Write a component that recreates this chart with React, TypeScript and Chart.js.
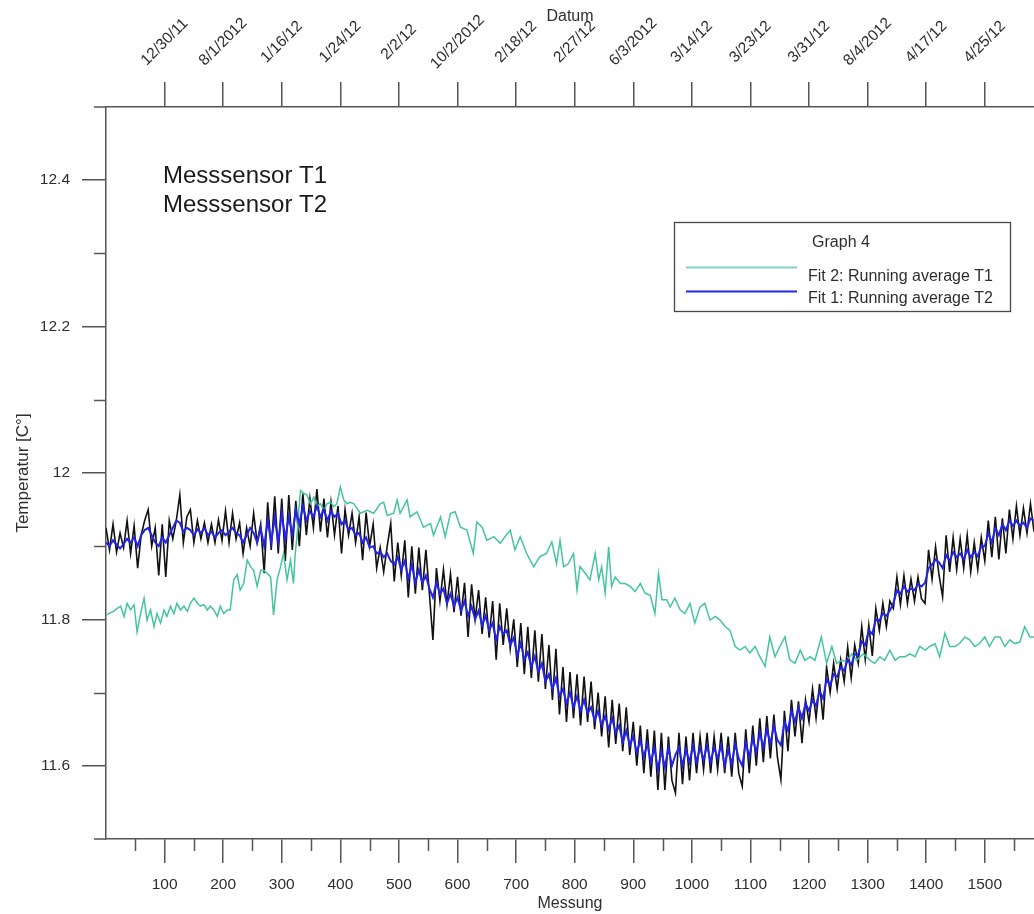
import React, { useEffect, useRef } from 'react';
import { Chart, registerables } from 'chart.js';

Chart.register(...registerables);

// ---------- data ----------
const STEP = 6; // measurement spacing of the sampled T2 series

// Messsensor T2, raw (black)
const T2_RAW: number[] = [
  11.925, 11.895, 11.930, 11.892, 11.918, 11.898, 11.935, 11.890, 11.928, 11.870,
  11.915, 11.935, 11.950, 11.900, 11.925, 11.860, 11.930, 11.858, 11.935, 11.910,
  11.935, 11.970, 11.905, 11.940, 11.950, 11.905, 11.935, 11.910, 11.932, 11.905,
  11.930, 11.905, 11.936, 11.908, 11.948, 11.905, 11.945, 11.910, 11.932, 11.890,
  11.925, 11.900, 11.945, 11.905, 11.930, 11.863, 11.960, 11.895, 11.968, 11.890,
  11.965, 11.880, 11.970, 11.895, 11.962, 11.900, 11.972, 11.915, 11.965, 11.925,
  11.978, 11.920, 11.965, 11.912, 11.960, 11.915, 11.955, 11.890, 11.950, 11.915,
  11.945, 11.905, 11.940, 11.881, 11.946, 11.900, 11.930, 11.870, 11.898, 11.865,
  11.900, 11.931, 11.852, 11.905, 11.860, 11.908, 11.830, 11.900, 11.835, 11.898,
  11.840, 11.895, 11.835, 11.772, 11.870, 11.825, 11.868, 11.820, 11.862, 11.810,
  11.858, 11.805, 11.850, 11.776, 11.848, 11.800, 11.840, 11.780, 11.830, 11.775,
  11.825, 11.745, 11.822, 11.765, 11.815, 11.760, 11.800, 11.735, 11.795, 11.725,
  11.790, 11.720, 11.785, 11.715, 11.780, 11.705, 11.765, 11.690, 11.760, 11.670,
  11.735, 11.660, 11.728, 11.665, 11.725, 11.655, 11.722, 11.660, 11.715, 11.650,
  11.700, 11.640, 11.695, 11.625, 11.690, 11.630, 11.685, 11.620, 11.680, 11.615,
  11.660, 11.600, 11.655, 11.590, 11.650, 11.585, 11.648, 11.567, 11.645, 11.567,
  11.640, 11.580, 11.563, 11.645, 11.575, 11.640, 11.580, 11.645, 11.590, 11.640,
  11.595, 11.645, 11.590, 11.640, 11.595, 11.645, 11.590, 11.640, 11.585, 11.645,
  11.590, 11.572, 11.650, 11.590, 11.655, 11.600, 11.665, 11.605, 11.668, 11.610,
  11.670, 11.612, 11.581, 11.675, 11.620, 11.690, 11.640, 11.688, 11.631, 11.690,
  11.660, 11.705, 11.665, 11.712, 11.663, 11.735, 11.700, 11.740, 11.705, 11.745,
  11.715, 11.762, 11.720, 11.765, 11.740, 11.790, 11.745, 11.792, 11.750, 11.815,
  11.785, 11.822, 11.790, 11.825, 11.815, 11.858, 11.820, 11.860, 11.822, 11.855,
  11.825, 11.858, 11.828, 11.822, 11.895, 11.855, 11.899, 11.860, 11.831, 11.915,
  11.865, 11.912, 11.868, 11.910, 11.870, 11.915, 11.865, 11.905, 11.868, 11.912,
  11.880, 11.935, 11.885, 11.940, 11.882, 11.938, 11.890, 11.950, 11.910, 11.955,
  11.915, 11.952, 11.918, 11.958, 11.920,
];

// Fit 1: Running average T2 (blue)
const T2_AVG: number[] = [
  11.905, 11.900, 11.908, 11.902, 11.897, 11.903, 11.910, 11.905, 11.912, 11.900,
  11.915, 11.922, 11.925, 11.915, 11.905, 11.900, 11.912, 11.905, 11.915, 11.925,
  11.935, 11.932, 11.920, 11.925, 11.922, 11.915, 11.923, 11.918, 11.925, 11.915,
  11.920, 11.912, 11.918, 11.922, 11.915, 11.920, 11.925, 11.918, 11.915, 11.905,
  11.915, 11.925, 11.918, 11.905, 11.925, 11.900, 11.935, 11.905, 11.940, 11.905,
  11.945, 11.910, 11.940, 11.915, 11.950, 11.930, 11.955, 11.935, 11.948, 11.940,
  11.955, 11.940, 11.950, 11.935, 11.948, 11.940, 11.945, 11.930, 11.935, 11.922,
  11.925, 11.915, 11.918, 11.905, 11.912, 11.898, 11.900, 11.890, 11.893, 11.885,
  11.890, 11.880, 11.875, 11.885, 11.868, 11.880, 11.855, 11.875, 11.850, 11.868,
  11.850, 11.860, 11.842, 11.830, 11.850, 11.835, 11.842, 11.822, 11.835, 11.818,
  11.830, 11.812, 11.825, 11.805, 11.818, 11.800, 11.812, 11.792, 11.805, 11.785,
  11.795, 11.772, 11.790, 11.780, 11.785, 11.765, 11.775, 11.750, 11.768, 11.745,
  11.755, 11.735, 11.750, 11.728, 11.740, 11.715, 11.725, 11.705, 11.720, 11.695,
  11.705, 11.685, 11.700, 11.680, 11.695, 11.675, 11.690, 11.672, 11.680, 11.662,
  11.675, 11.655, 11.668, 11.650, 11.665, 11.645, 11.655, 11.632, 11.648, 11.628,
  11.640, 11.618, 11.635, 11.612, 11.630, 11.605, 11.625, 11.595, 11.620, 11.598,
  11.625, 11.600, 11.615, 11.625, 11.600, 11.622, 11.605, 11.628, 11.605, 11.625,
  11.608, 11.628, 11.605, 11.625, 11.610, 11.628, 11.600, 11.622, 11.602, 11.630,
  11.610, 11.600, 11.632, 11.612, 11.638, 11.618, 11.645, 11.625, 11.650, 11.630,
  11.655, 11.635, 11.628, 11.660, 11.648, 11.675, 11.660, 11.680, 11.665, 11.685,
  11.675, 11.690, 11.682, 11.702, 11.692, 11.718, 11.710, 11.725, 11.722, 11.735,
  11.730, 11.745, 11.738, 11.752, 11.752, 11.770, 11.765, 11.785, 11.780, 11.800,
  11.798, 11.808, 11.805, 11.812, 11.822, 11.840, 11.835, 11.845, 11.838, 11.842,
  11.840, 11.848, 11.845, 11.850, 11.870, 11.875, 11.882, 11.878, 11.870, 11.888,
  11.880, 11.892, 11.885, 11.890, 11.882, 11.895, 11.885, 11.892, 11.886, 11.900,
  11.900, 11.918, 11.905, 11.925, 11.915, 11.930, 11.922, 11.935, 11.928, 11.935,
  11.928, 11.932, 11.925, 11.938, 11.935,
];

// Fit 2: Running average T1 (teal) — measurement positions and values
const T1_M: number[] = [
  0, 7, 13, 19, 25, 31, 36, 42, 48, 53,
  59, 65, 70, 76, 82, 87, 93, 99, 104, 110,
  116, 121, 127, 133, 139, 144, 150, 156, 161, 167,
  173, 178, 184, 190, 195, 201, 207, 212, 218, 224,
  229, 235, 241, 247, 252, 258, 264, 269, 275, 281,
  286, 292, 298, 303, 309, 315, 320, 323, 326, 329,
  332, 338, 343, 349, 355, 360, 366, 372, 377, 383,
  389, 394, 400, 406, 411, 417, 423, 434, 446, 457,
  468, 474, 480, 491, 497, 502, 514, 519, 531, 542,
  554, 559, 571, 579, 588, 596, 605, 616, 627, 633,
  642, 650, 662, 673, 681, 690, 698, 707, 718, 730,
  741, 752, 761, 769, 775, 781, 789, 798, 804, 809,
  818, 826, 835, 841, 846, 852, 858, 863, 869, 878,
  886, 895, 903, 912, 920, 929, 937, 943, 949, 957,
  963, 971, 980, 988, 997, 1005, 1014, 1022, 1031, 1040,
  1048, 1057, 1065, 1074, 1082, 1091, 1099, 1108, 1116, 1125,
  1133, 1142, 1150, 1159, 1167, 1176, 1185, 1193, 1202, 1210,
  1221, 1230, 1239, 1247, 1256, 1264, 1273, 1281, 1293, 1304,
  1312, 1321, 1329, 1338, 1347, 1355, 1364, 1372, 1381, 1389,
  1398, 1406, 1415, 1423, 1432, 1440, 1449, 1457, 1466, 1474,
  1483, 1491, 1500, 1508, 1517, 1526, 1534, 1543, 1551, 1560,
  1568, 1577, 1584,
];
const T1_AVG: number[] = [
  11.806, 11.809, 11.811, 11.815, 11.818, 11.804, 11.822, 11.813, 11.820, 11.783,
  11.808, 11.829, 11.799, 11.813, 11.790, 11.808, 11.795, 11.813, 11.804, 11.818,
  11.808, 11.822, 11.813, 11.818, 11.811, 11.822, 11.829, 11.822, 11.818, 11.820,
  11.813, 11.818, 11.813, 11.804, 11.818, 11.808, 11.813, 11.813, 11.854, 11.861,
  11.840, 11.849, 11.881, 11.872, 11.867, 11.845, 11.867, 11.867, 11.863, 11.858,
  11.806, 11.854, 11.872, 11.890, 11.854, 11.881, 11.849, 11.890, 11.913, 11.949,
  11.976, 11.972, 11.970, 11.958, 11.967, 11.954, 11.958, 11.949, 11.958, 11.960,
  11.954, 11.958, 11.981, 11.963, 11.958, 11.960, 11.958, 11.945, 11.949, 11.945,
  11.958, 11.960, 11.942, 11.945, 11.963, 11.945, 11.963, 11.940, 11.947, 11.926,
  11.931, 11.915, 11.940, 11.913, 11.945, 11.947, 11.926, 11.922, 11.890, 11.933,
  11.926, 11.908, 11.913, 11.904, 11.913, 11.922, 11.895, 11.913, 11.890, 11.872,
  11.886, 11.890, 11.906, 11.876, 11.908, 11.872, 11.876, 11.890, 11.840, 11.872,
  11.863, 11.854, 11.890, 11.854, 11.872, 11.836, 11.899, 11.845, 11.858, 11.849,
  11.849, 11.845, 11.838, 11.849, 11.836, 11.833, 11.808, 11.863, 11.827, 11.827,
  11.817, 11.829, 11.813, 11.808, 11.822, 11.795, 11.817, 11.822, 11.799, 11.804,
  11.799, 11.790, 11.785, 11.763, 11.758, 11.763, 11.754, 11.763, 11.749, 11.736,
  11.776, 11.749, 11.763, 11.776, 11.745, 11.740, 11.758, 11.744, 11.749, 11.744,
  11.776, 11.740, 11.763, 11.740, 11.744, 11.742, 11.753, 11.744, 11.753, 11.744,
  11.740, 11.749, 11.744, 11.758, 11.744, 11.749, 11.749, 11.753, 11.749, 11.763,
  11.758, 11.763, 11.767, 11.749, 11.781, 11.763, 11.763, 11.767, 11.776, 11.772,
  11.763, 11.767, 11.776, 11.763, 11.776, 11.776, 11.763, 11.772, 11.767, 11.769,
  11.790, 11.776, 11.776,
];

// axes
const X_TICKS: number[] = [100, 200, 300, 400, 500, 600, 700, 800, 900, 1000, 1100, 1200, 1300, 1400, 1500];
const X_MINOR: number[] = [50, 150, 250, 350, 450, 550, 650, 750, 850, 950, 1050, 1150, 1250, 1350, 1450, 1550];
const DATE_LABELS: string[] = [
  '12/30/11', '8/1/2012', '1/16/12', '1/24/12', '2/2/12', '10/2/2012', '2/18/12', '2/27/12',
  '6/3/2012', '3/14/12', '3/23/12', '3/31/12', '8/4/2012', '4/17/12', '4/25/12',
];
const Y_TICKS: number[] = [11.6, 11.8, 12, 12.2, 12.4];
const Y_MINOR: number[] = [11.7, 11.9, 12.1, 12.3];
const ANNOTATION: string[] = ['Messsensor T1', 'Messsensor T2'];

// ---------- styles ----------
const FONT = '"Liberation Sans", Arial, Helvetica, sans-serif';
const AXIS = '#555555';
const TEXT = '#2e2e2e';
const BLACK = '#111111';
const BLUE = '#2424e6';
const TEAL = '#45c4a0';
const TEAL_LEGEND = '#80d4c6';

const decorPlugin = {
  id: 'decor',
  afterDraw(chart: any) {
    const ctx: CanvasRenderingContext2D = chart.ctx;
    const { left, top, bottom } = chart.chartArea;
    const xs = chart.scales.x;
    const xt = chart.scales.xTop;
    const ys = chart.scales.y;
    ctx.save();

    // minor ticks and axis stubs
    ctx.strokeStyle = AXIS;
    ctx.lineWidth = 1.5;
    ctx.beginPath();
    X_MINOR.forEach((v) => {
      const px = Math.round(xs.getPixelForValue(v)) + 0.5;
      ctx.moveTo(px, bottom);
      ctx.lineTo(px, bottom + 12);
    });
    Y_MINOR.forEach((v) => {
      const py = Math.round(ys.getPixelForValue(v)) + 0.5;
      ctx.moveTo(left - 12, py);
      ctx.lineTo(left, py);
    });
    ctx.moveTo(left - 12, top);
    ctx.lineTo(left, top);
    ctx.moveTo(left - 12, bottom);
    ctx.lineTo(left, bottom);
    ctx.stroke();

    // rotated date labels on the top axis
    ctx.fillStyle = TEXT;
    ctx.font = `15.5px ${FONT}`;
    ctx.textAlign = 'center';
    ctx.textBaseline = 'middle';
    X_TICKS.forEach((v, i) => {
      const px = xt.getPixelForValue(v);
      ctx.save();
      ctx.translate(px, 42);
      ctx.rotate(-Math.PI / 4);
      ctx.fillText(DATE_LABELS[i], 0, 0);
      ctx.restore();
    });

    // annotation text
    ctx.font = `24px ${FONT}`;
    ctx.fillStyle = '#1a1a1a';
    ctx.textAlign = 'left';
    ctx.textBaseline = 'alphabetic';
    ANNOTATION.forEach((t, i) => {
      ctx.fillText(t, left + 57, top + 76 + i * 29);
    });

    // legend box
    const ds = chart.data.datasets;
    ctx.strokeStyle = '#474747';
    ctx.lineWidth = 1.3;
    ctx.strokeRect(674.5, 222.5, 336, 89);
    ctx.font = `16px ${FONT}`;
    ctx.fillStyle = TEXT;
    ctx.textBaseline = 'middle';
    ctx.textAlign = 'center';
    ctx.fillText('Graph 4', 841, 243);
    ctx.textAlign = 'left';
    ctx.fillText(ds[1].label, 808, 277);
    ctx.fillText(ds[0].label, 808, 299);
    ctx.lineWidth = 1.8;
    ctx.strokeStyle = TEAL_LEGEND;
    ctx.beginPath();
    ctx.moveTo(686, 267.5);
    ctx.lineTo(797, 267.5);
    ctx.stroke();
    ctx.strokeStyle = BLUE;
    ctx.beginPath();
    ctx.moveTo(686, 291.5);
    ctx.lineTo(797, 291.5);
    ctx.stroke();

    ctx.restore();
  },
};

export default function App() {
  const ref = useRef<HTMLCanvasElement>(null);

  useEffect(() => {
    const canvas = ref.current;
    if (!canvas) return;
    const measure = T2_RAW.map((_, i) => i * STEP);
    const rawPts = T2_RAW.map((v, i) => ({ x: measure[i], y: v }));
    const avgPts = T2_AVG.map((v, i) => ({ x: measure[i], y: v }));
    const t1Pts = T1_AVG.map((v, i) => ({ x: T1_M[i], y: v }));

    const tickFont = { family: FONT, size: 15.5 };
    const titleFont = { family: FONT, size: 16 };

    const chart = new Chart(canvas, {
      type: 'line',
      data: {
        datasets: [
          { label: 'Fit 1: Running average T2', data: avgPts, borderColor: BLUE, borderWidth: 2, pointRadius: 0, tension: 0, fill: false },
          { label: 'Fit 2: Running average T1', data: t1Pts, borderColor: TEAL, borderWidth: 1.5, pointRadius: 0, tension: 0, fill: false },
          { label: 'Messsensor T2', data: rawPts, borderColor: BLACK, borderWidth: 1.6, pointRadius: 0, tension: 0, fill: false },
        ],
      },
      options: {
        animation: false,
        responsive: false,
        events: [],
        layout: { padding: 0 },
        plugins: { legend: { display: false }, tooltip: { enabled: false }, title: { display: false } },
        scales: {
          x: {
            type: 'linear',
            position: 'bottom',
            min: 0,
            max: 1584,
            afterBuildTicks: (s: any) => { s.ticks = X_TICKS.map((v) => ({ value: v })); },
            afterFit: (s: any) => { s.height = 75; },
            grid: { drawOnChartArea: false, drawTicks: true, tickLength: 24, color: AXIS, lineWidth: 1.5 },
            border: { display: true, color: AXIS, width: 1.5 },
            ticks: { font: tickFont, color: TEXT, padding: 12, maxRotation: 0, autoSkip: false, callback: (v: any) => String(v) },
            title: { display: true, text: 'Messung', font: titleFont, color: TEXT, padding: { top: 0, bottom: 1 } },
          },
          xTop: {
            type: 'linear',
            position: 'top',
            display: true,
            min: 0,
            max: 1584,
            afterBuildTicks: (s: any) => { s.ticks = X_TICKS.map((v) => ({ value: v })); },
            afterFit: (s: any) => { s.height = 107; },
            grid: { drawOnChartArea: false, drawTicks: true, tickLength: 25, color: AXIS, lineWidth: 1.5 },
            border: { display: true, color: AXIS, width: 1.5 },
            ticks: { display: false },
            title: { display: true, text: 'Datum', font: titleFont, color: TEXT, padding: { top: 7, bottom: 0 } },
          },
          y: {
            type: 'linear',
            position: 'left',
            min: 11.5,
            max: 12.5,
            afterBuildTicks: (s: any) => { s.ticks = Y_TICKS.map((v) => ({ value: v })); },
            afterFit: (s: any) => { s.width = 106; },
            grid: { drawOnChartArea: false, drawTicks: true, tickLength: 24, color: AXIS, lineWidth: 1.5 },
            border: { display: true, color: AXIS, width: 1.5 },
            ticks: { font: tickFont, color: TEXT, padding: 12, callback: (v: any) => String(Number(v)) },
            title: { display: true, text: 'Temperatur [C°]', font: { family: FONT, size: 17 }, color: TEXT, padding: { top: 13, bottom: 0 } },
          },
        },
      },
      plugins: [decorPlugin],
    } as any);

    return () => chart.destroy();
  }, []);

  return (
    <div style={{ position: 'fixed', left: 0, top: 0, width: 1034, height: 914, background: '#ffffff', overflow: 'hidden' }}>
      <canvas ref={ref} width={1034} height={914} style={{ display: 'block', width: 1034, height: 914 }} />
    </div>
  );
}
